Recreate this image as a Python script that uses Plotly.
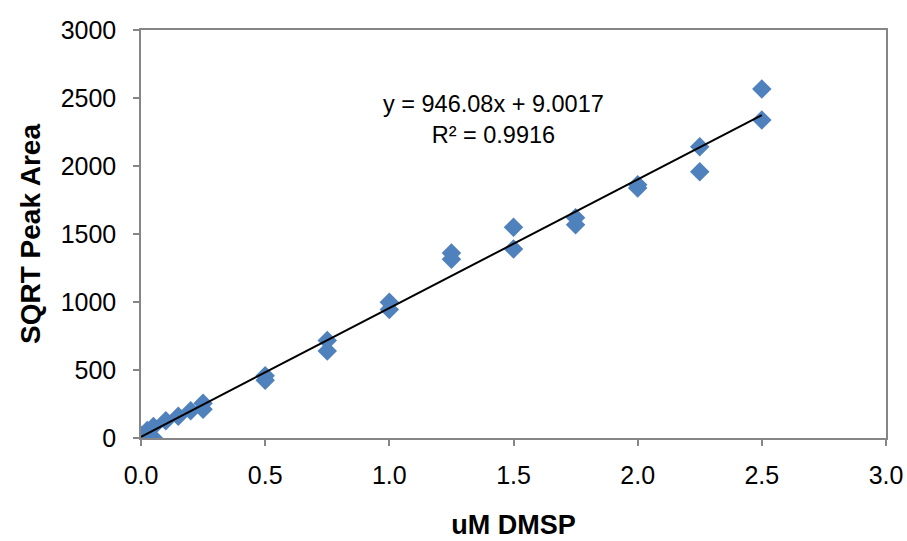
import plotly.graph_objects as go

conc = [0, 0, 0.025, 0.025, 0.05, 0.05, 0.1, 0.15, 0.2, 0.25, 0.25,
        0.5, 0.5, 0.75, 0.75, 1.0, 1.0, 1.25, 1.25, 1.5, 1.5,
        1.75, 1.75, 2.0, 2.0, 2.25, 2.25, 2.5, 2.5]
peak = [5, 20, 55, 10, 85, 0, 127, 160, 200, 255, 212,
        458, 425, 716, 640, 998, 945, 1360, 1315, 1549, 1390,
        1620, 1568, 1862, 1838, 2142, 1958, 2566, 2338]

slope = 946.08
intercept = 9.0017
r2 = 0.9916
fit_x = [0, 2.5]
fit_y = [slope * v + intercept for v in fit_x]

x_ticks = [0, 0.5, 1.0, 1.5, 2.0, 2.5, 3.0]
y_ticks = [0, 500, 1000, 1500, 2000, 2500, 3000]

FONT = "Liberation Sans, Arial"

fig = go.Figure()
fig.add_trace(go.Scatter(x=conc, y=peak, mode="markers",
                         marker=dict(symbol="diamond", size=15, color="#4F81BD"),
                         showlegend=False))
fig.add_trace(go.Scatter(x=fit_x, y=fit_y, mode="lines",
                         line=dict(color="black", width=2), showlegend=False))

fig.add_annotation(x=1.42, y=2340, xref="x", yref="y",
                   text=f"y = {slope}x + {intercept}<br>R² = {r2}",
                   showarrow=False, align="center",
                   font=dict(family=FONT, size=23.5, color="black"))

axis_common = dict(showline=True, linecolor="#868686", linewidth=1.5, mirror=True,
                   ticks="outside", ticklen=6, tickcolor="#868686", tickwidth=1.5,
                   showgrid=False, zeroline=False, automargin=False,
                   tickfont=dict(family=FONT, size=25, color="black"))

fig.update_xaxes(range=[0, 3.0], tickvals=x_ticks, tickformat=".1f",
                 ticklabelstandoff=8,
                 title=dict(text="<b>uM DMSP</b>", standoff=27,
                            font=dict(family=FONT, size=27, color="black")),
                 **axis_common)
fig.update_yaxes(range=[0, 3000], tickvals=y_ticks, ticklabelstandoff=12,
                 title=dict(text="<b>SQRT Peak Area</b>", standoff=12,
                            font=dict(family=FONT, size=28, color="black")),
                 **axis_common)

fig.update_layout(width=907, height=541, plot_bgcolor="white", paper_bgcolor="white",
                  margin=dict(l=141, r=21, t=30, b=103))

fig.write_html("out.html")
